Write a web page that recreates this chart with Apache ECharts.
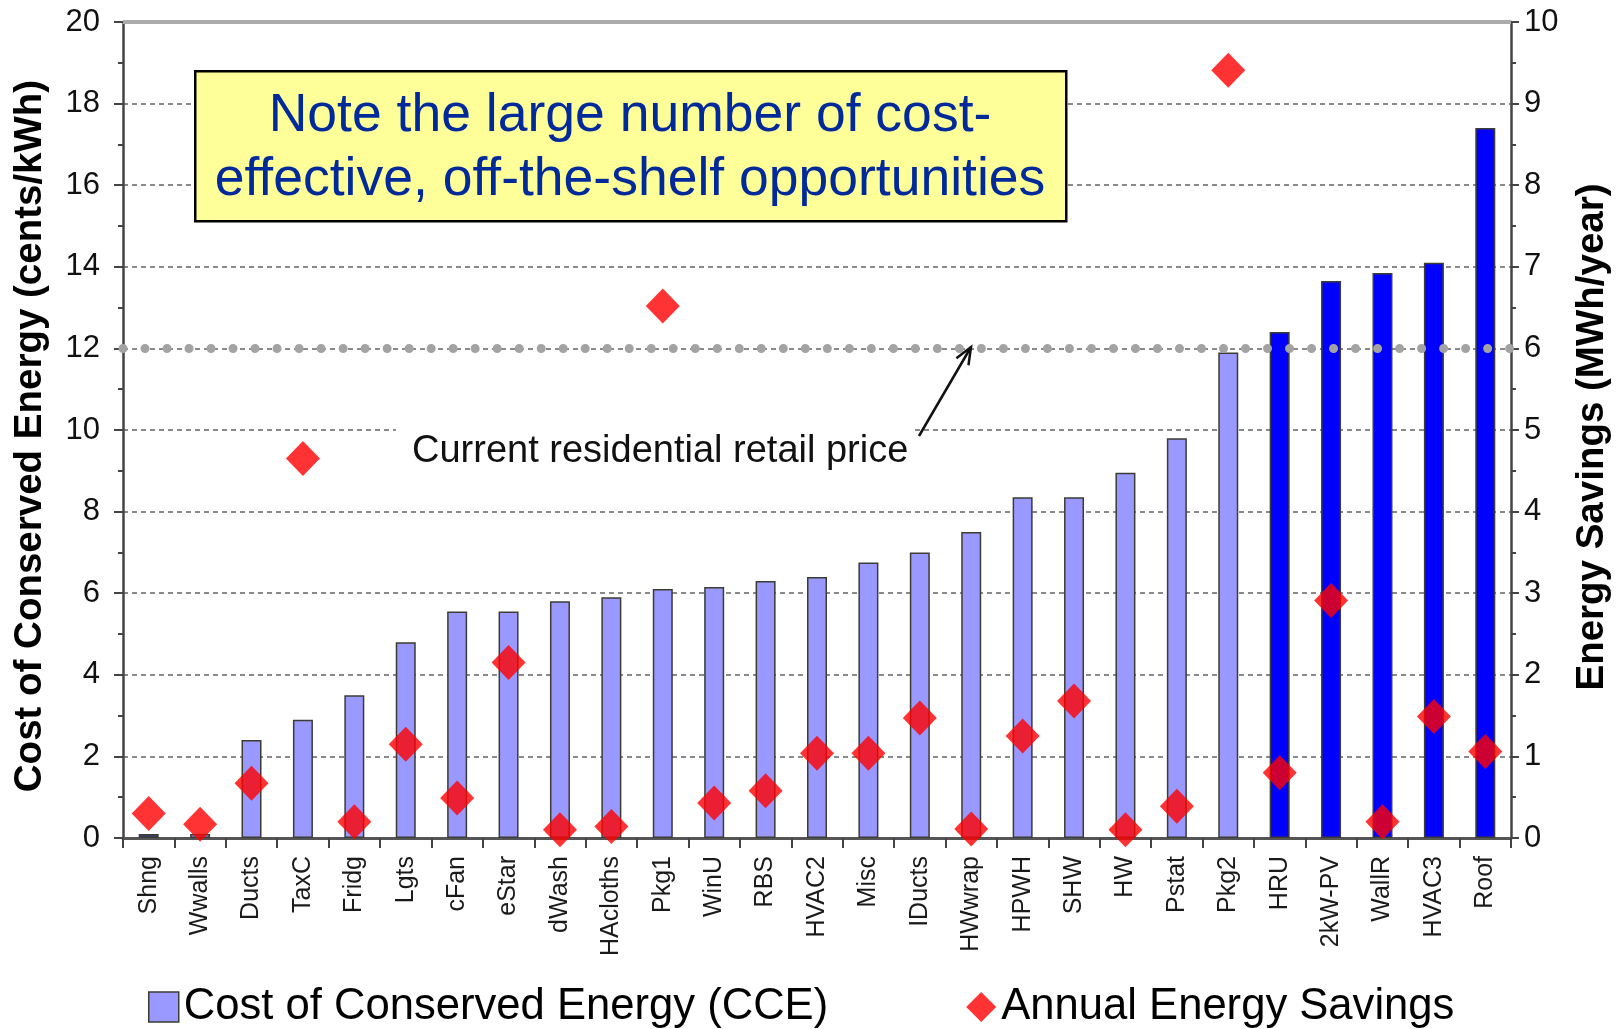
<!DOCTYPE html>
<html>
<head>
<meta charset="utf-8">
<title>Cost of Conserved Energy</title>
<script src="https://cdn.jsdelivr.net/npm/echarts@6/dist/echarts.min.js"></script>
<style>
  html, body { margin: 0; padding: 0; background: #fff; }
  #chart { width: 1620px; height: 1029px; }
</style>
</head>
<body>
<div id="chart"></div>
<script>
// ---- data ----
var categories = ["Shng", "Wwalls", "Ducts", "TaxC", "Fridg", "Lgts", "cFan", "eStar", "dWash", "HAcloths",
                  "Pkg1", "WinU", "RBS", "HVAC2", "Misc", "IDucts", "HWwrap", "HPWH", "SHW", "HW",
                  "Pstat", "Pkg2", "HRU", "2kW-PV", "WallR", "HVAC3", "Roof"];
// cents/kWh, left axis
var cceValues = [0.1, 0.1, 2.4, 2.9, 3.5, 4.8, 5.55, 5.55, 5.8, 5.9,
                 6.1, 6.15, 6.3, 6.4, 6.75, 7.0, 7.5, 8.35, 8.35, 8.95,
                 9.8, 11.9, 12.4, 13.65, 13.85, 14.1, 17.4];
// MWh/year, right axis
var savingsValues = [0.3, 0.17, 0.67, 4.65, 0.2, 1.15, 0.49, 2.15, 0.1, 0.14,
                     6.52, 0.43, 0.58, 1.04, 1.04, 1.47, 0.11, 1.25, 1.68, 0.1,
                     0.39, 9.41, 0.8, 2.91, 0.2, 1.49, 1.06];
var leftTicks  = [0, 2, 4, 6, 8, 10, 12, 14, 16, 18, 20];
var rightTicks = [0, 1, 2, 3, 4, 5, 6, 7, 8, 9, 10];
var retailPrice = 12;                 // cents/kWh
var firstAboveRetail = "HRU";         // bars from here on are drawn dark blue

var FONT = "'Liberation Sans', Arial, sans-serif";

// ---- colours ----
var lightBar  = "#9999ff";
var darkBar   = "#0000ff";
var barEdge   = "#3c3c34";
var markerRed = "#ff0000";
var gridGrey  = "#8a8a8a";

var chart = echarts.init(document.getElementById("chart"), null, { renderer: "canvas" });

var darkStart = categories.indexOf(firstAboveRetail);
var barData = cceValues.map(function (v, i) {
  if (i >= darkStart) return { value: v, itemStyle: { color: darkBar } };
  if (i === 0) return { value: v, itemStyle: { color: "#3b3b80" } };
  return v;
});

// arrow for the retail price note (layout only)
var arrowTail = [919, 436];
var arrowTip  = [971, 347];
function arrowHead() {
  var dx = arrowTip[0] - arrowTail[0], dy = arrowTip[1] - arrowTail[1];
  var len = Math.sqrt(dx * dx + dy * dy);
  var ux = dx / len, uy = dy / len;
  var hl = 17, hw = 7;
  var bx = arrowTip[0] - ux * hl, by = arrowTip[1] - uy * hl;
  return [
    [bx - uy * hw, by + ux * hw],
    arrowTip.slice(),
    [bx + uy * hw, by - ux * hw]
  ];
}

chart.setOption({
  animation: false,
  textStyle: { fontFamily: FONT },

  grid: { left: 123, right: 105, top: 22, bottom: 191 },

  legend: {
    bottom: -5,
    left: 143,
    itemWidth: 30,
    itemHeight: 30,
    itemGap: 138,
    textStyle: { fontSize: 43.6, color: "#000", fontFamily: FONT },
    data: [
      { name: "Cost of Conserved Energy (CCE)", icon: "rect",
        itemStyle: { color: lightBar, borderColor: barEdge, borderWidth: 1.5 } },
      { name: "Annual Energy Savings", icon: "diamond",
        itemStyle: { color: markerRed } }
    ]
  },

  xAxis: {
    type: "category",
    data: categories,
    axisLine: { lineStyle: { color: "#555", width: 3 } },
    axisTick: { show: true, length: 10, lineStyle: { color: "#444", width: 2 } },
    axisLabel: {
      rotate: 90,
      interval: 0,
      margin: 18,
      fontSize: 25,
      color: "#1a1a1a",
      fontFamily: FONT
    },
    splitLine: { show: false }
  },

  yAxis: [
    {
      type: "value",
      min: leftTicks[0],
      max: leftTicks[leftTicks.length - 1],
      interval: leftTicks[1] - leftTicks[0],
      name: "Cost of Conserved Energy (cents/kWh)",
      nameLocation: "middle",
      nameRotate: 90,
      nameGap: 73,
      nameTextStyle: { fontSize: 38.5, fontWeight: "bold", color: "#000", fontFamily: FONT,
                       padding: [0, 12, 0, 0] },
      axisLine: { show: true, lineStyle: { color: "#444", width: 2.5 } },
      axisTick: { show: true, length: 9, lineStyle: { color: "#444", width: 2 } },
      minorTick: { show: true, splitNumber: 2, length: 5, lineStyle: { color: "#444", width: 2 } },
      axisLabel: { fontSize: 31, color: "#111", margin: 23, fontFamily: FONT },
      splitLine: { show: true, lineStyle: { color: gridGrey, width: 2, type: [5, 4] } }
    },
    {
      type: "value",
      min: rightTicks[0],
      max: rightTicks[rightTicks.length - 1],
      interval: rightTicks[1] - rightTicks[0],
      position: "right",
      name: "Energy Savings (MWh/year)",
      nameLocation: "middle",
      nameRotate: 90,
      nameGap: 62,
      nameTextStyle: { fontSize: 38.5, fontWeight: "bold", color: "#000", fontFamily: FONT,
                       padding: [0, 14, 0, 0] },
      axisLine: { show: true, lineStyle: { color: "#444", width: 2.5 } },
      axisTick: { show: true, length: 8, lineStyle: { color: "#444", width: 2 } },
      minorTick: { show: true, splitNumber: 2, length: 5, lineStyle: { color: "#444", width: 2 } },
      axisLabel: { fontSize: 31, color: "#111", margin: 13, fontFamily: FONT },
      splitLine: { show: false }
    }
  ],

  series: [
    {
      name: "Cost of Conserved Energy (CCE)",
      type: "bar",
      data: barData,
      barWidth: 20,
      itemStyle: { color: lightBar, borderColor: barEdge, borderWidth: 1.5 },
      z: 2,
      markLine: {
        silent: true,
        symbol: "none",
        label: { show: false },
        data: [
          // retail price line: round grey dots
          { yAxis: retailPrice,
            lineStyle: { color: "#a3a3a3", width: 9, type: [0.01, 22], cap: "round", opacity: 1 } },
          // top frame
          { yAxis: leftTicks[leftTicks.length - 1],
            lineStyle: { color: "#ababab", width: 4, type: "solid", opacity: 1 } }
        ]
      }
    },
    {
      name: "Annual Energy Savings",
      type: "scatter",
      yAxisIndex: 1,
      data: savingsValues,
      symbol: "diamond",
      symbolSize: [34, 35],
      itemStyle: { color: markerRed },
      z: 5
    }
  ],

  graphic: [
    // note box
    {
      type: "rect",
      left: 194, top: 70,
      shape: { width: 871, height: 150 },
      style: { fill: "#ffff99", stroke: "#000", lineWidth: 2.5 },
      z: 20
    },
    {
      type: "text",
      x: 630, y: 148,
      style: {
        text: "Note the large number of cost-\neffective, off-the-shelf opportunities",
        font: "53.5px " + FONT,
        fill: "#002a9a",
        align: "center",
        verticalAlign: "middle",
        lineHeight: 64
      },
      z: 21
    },
    // retail price label with white backing over the grid line
    {
      type: "rect",
      left: 396, top: 424,
      shape: { width: 515, height: 50 },
      style: { fill: "#fff" },
      z: 10
    },
    {
      type: "text",
      x: 412, y: 452,
      style: {
        text: "Current residential retail price",
        font: "38px " + FONT,
        fill: "#111",
        align: "left",
        verticalAlign: "middle"
      },
      z: 11
    },
    {
      type: "line",
      shape: { x1: arrowTail[0], y1: arrowTail[1], x2: arrowTip[0], y2: arrowTip[1] },
      style: { stroke: "#111", lineWidth: 2.5 },
      z: 11
    },
    {
      type: "polyline",
      shape: { points: arrowHead() },
      style: { stroke: "#111", lineWidth: 2.5, fill: null },
      z: 11
    }
  ]
});

window.addEventListener("resize", function () { chart.resize(); });
</script>
</body>
</html>
